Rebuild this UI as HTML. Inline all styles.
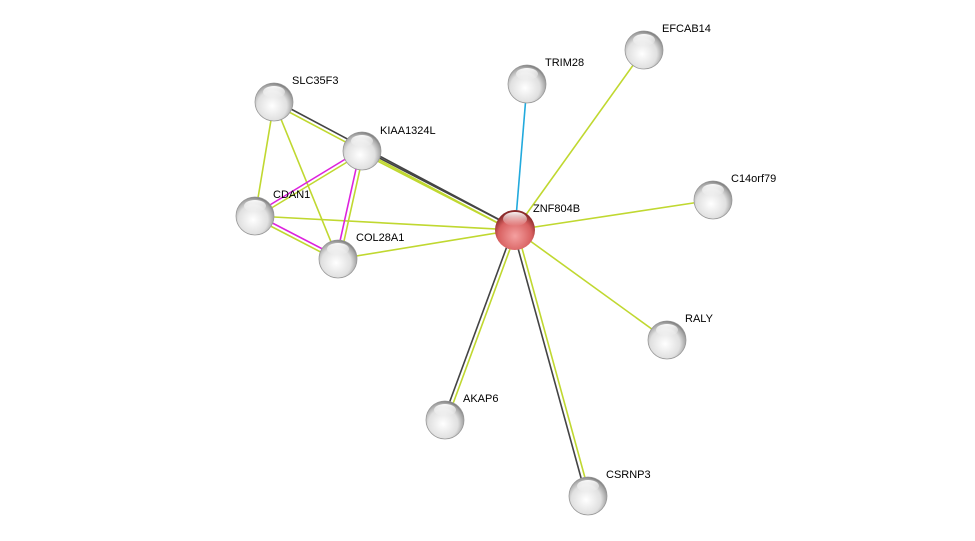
<!DOCTYPE html>
<html><head><style>
html,body{margin:0;padding:0;background:#fff;}
svg{display:block;}
text{font-family:"Liberation Sans",sans-serif;font-size:11px;fill:#000;}
</style></head><body>
<svg width="975" height="541" viewBox="0 0 975 541" xmlns="http://www.w3.org/2000/svg">
<defs>
<radialGradient id="g" cx="0.45" cy="0.6" r="0.6">
<stop offset="0" stop-color="#ffffff"/><stop offset="0.65" stop-color="#e0e0e0"/><stop offset="0.92" stop-color="#a0a0a0"/><stop offset="1" stop-color="#777"/>
</radialGradient>
<radialGradient id="r" cx="0.5" cy="0.65" r="0.6">
<stop offset="0" stop-color="#f4a0a0"/><stop offset="0.7" stop-color="#d86060"/><stop offset="1" stop-color="#8a2a2a"/>
</radialGradient>
<linearGradient id="h" x1="0" y1="0" x2="0" y2="1">
<stop offset="0" stop-color="#fff" stop-opacity="0.95"/><stop offset="1" stop-color="#fff" stop-opacity="0"/>
</linearGradient>
</defs>
<g stroke-width="1.6" fill="none">
<line x1="515" y1="230" x2="527" y2="84" stroke="#22aadd"/>
<line x1="515" y1="230" x2="644" y2="50" stroke="#c0d830"/>
<line x1="515" y1="230" x2="713" y2="200" stroke="#c0d830"/>
<line x1="515" y1="230" x2="667" y2="340" stroke="#c0d830"/>
<line x1="513" y1="230" x2="586" y2="496" stroke="#444"/>
<line x1="517" y1="230" x2="590" y2="496" stroke="#c0d830"/>
<line x1="513" y1="230" x2="443" y2="420" stroke="#444"/>
<line x1="517" y1="230" x2="447" y2="420" stroke="#c0d830"/>
<line x1="515" y1="230" x2="338" y2="259" stroke="#c0d830"/>
<line x1="515" y1="230" x2="255" y2="216" stroke="#c0d830"/>
<line x1="515" y1="228" x2="362" y2="149" stroke="#444"/>
<line x1="515" y1="232" x2="362" y2="153" stroke="#c0d830"/>
<line x1="515" y1="228" x2="274" y2="100" stroke="#444"/>
<line x1="515" y1="232" x2="274" y2="104" stroke="#c0d830"/>
<line x1="274" y1="102" x2="255" y2="216" stroke="#c0d830"/>
<line x1="274" y1="102" x2="338" y2="259" stroke="#c0d830"/>
<line x1="362" y1="149" x2="255" y2="214" stroke="#dd22dd"/>
<line x1="362" y1="153" x2="255" y2="218" stroke="#c0d830"/>
<line x1="360" y1="151" x2="336" y2="259" stroke="#dd22dd"/>
<line x1="364" y1="151" x2="340" y2="259" stroke="#c0d830"/>
<line x1="255" y1="214" x2="338" y2="257" stroke="#dd22dd"/>
<line x1="255" y1="218" x2="338" y2="261" stroke="#c0d830"/>
</g>
<g>
<circle cx="515" cy="230" r="20" fill="url(#r)"/>
<ellipse cx="515" cy="219" rx="12" ry="7" fill="url(#h)"/>
<g fill="url(#g)" stroke="#999" stroke-width="0.8">
<circle cx="527" cy="84" r="19"/><circle cx="644" cy="50" r="19"/><circle cx="713" cy="200" r="19"/>
<circle cx="667" cy="340" r="19"/><circle cx="588" cy="496" r="19"/><circle cx="445" cy="420" r="19"/>
<circle cx="338" cy="259" r="19"/><circle cx="255" cy="216" r="19"/><circle cx="362" cy="151" r="19"/>
<circle cx="274" cy="102" r="19"/>
</g>
<g fill="url(#h)">
<ellipse cx="527" cy="74" rx="11" ry="6"/><ellipse cx="644" cy="40" rx="11" ry="6"/><ellipse cx="713" cy="190" rx="11" ry="6"/>
<ellipse cx="667" cy="330" rx="11" ry="6"/><ellipse cx="588" cy="486" rx="11" ry="6"/><ellipse cx="445" cy="410" rx="11" ry="6"/>
<ellipse cx="338" cy="249" rx="11" ry="6"/><ellipse cx="255" cy="206" rx="11" ry="6"/><ellipse cx="362" cy="141" rx="11" ry="6"/>
<ellipse cx="274" cy="92" rx="11" ry="6"/>
</g>
</g>
<text x="545" y="66">TRIM28</text>
<text x="662" y="32">EFCAB14</text>
<text x="731" y="182">C14orf79</text>
<text x="533" y="212">ZNF804B</text>
<text x="685" y="322">RALY</text>
<text x="606" y="478">CSRNP3</text>
<text x="463" y="402">AKAP6</text>
<text x="356" y="241">COL28A1</text>
<text x="273" y="198">CDAN1</text>
<text x="380" y="134">KIAA1324L</text>
<text x="292" y="84">SLC35F3</text>
</svg>
</body></html>
